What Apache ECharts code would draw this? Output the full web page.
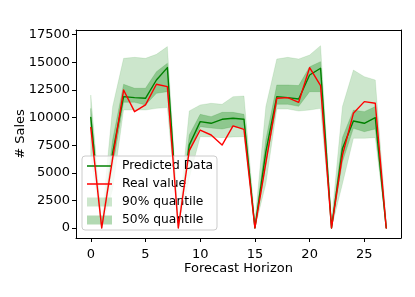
<!DOCTYPE html>
<html>
<head>
<meta charset="utf-8">
<script src="https://cdn.jsdelivr.net/npm/echarts@6/dist/echarts.min.js"></script>
<style>html,body{margin:0;padding:0;background:#fff}#c{width:415px;height:297px}</style>
</head>
<body>
<div id="c"></div>
<script>
const xs = [0,1,2,3,4,5,6,7,8,9,10,11,12,13,14,15,16,17,18,19,20,21,22,23,24,25,26,27];
const predicted = [10000,0,6800,11890,11800,11740,13400,14520,0,7500,9630,9480,9840,9930,9840,0,6900,11890,11800,11680,13850,14460,0,7200,9690,9480,9990,0];
const realValue = [9100,0,6300,12490,10530,11140,13010,12800,0,7000,8870,8420,7510,9240,8930,0,5900,11740,11800,11380,14520,12890,0,6600,10380,11440,11290,0];
const q90High = [12040,600,11000,15360,15450,15360,15720,16420,600,10600,11140,11290,11200,11890,11950,600,11000,15300,15450,15300,15660,16510,600,11000,14300,13700,13400,600];
const q90Low = [6500,0,3500,10680,10680,10680,10830,10900,0,4500,8270,8240,8180,8240,8270,0,4000,10770,10770,10590,10680,10830,0,4000,8120,8120,8180,0];
const q50High = [10830,200,8000,13010,12650,12650,14150,14910,200,8420,10290,10080,10470,10470,10290,200,8000,12950,12950,12890,14600,15060,200,8200,10680,10530,10990,200];
const q50Low = [9300,0,5500,11380,11380,11140,12190,12340,0,6910,9170,9050,8960,9170,9020,0,5800,11200,11200,11015,12340,12340,0,6000,9020,8720,8960,0];
const xTicks = [0,5,10,15,20,25];
const yTicks = [0,2500,5000,7500,10000,12500,15000,17500];

const FONT = 'DejaVu Sans';
const GREEN = '#008000';
const RED = '#ff0000';
const C90 = 'rgba(0,128,0,0.2)';
const C50 = 'rgba(0,128,0,0.3)';
const X_MIN = -1.35, X_MAX = 28.35, Y_MIN = -905, Y_MAX = 17925;

function bandSeries(name, lo, hi, color) {
  return {
    name: name,
    type: 'custom',
    z: 1,
    itemStyle: {color: color},
    data: xs.map((x, i) => [x, lo[i], hi[i]]),
    encode: {x: 0, y: [1, 2]},
    renderItem: function (params, api) {
      if (params.dataIndex !== 0) return null;
      const pts = [];
      for (let i = 0; i < xs.length; i++) pts.push(api.coord([xs[i], hi[i]]));
      for (let i = xs.length - 1; i >= 0; i--) pts.push(api.coord([xs[i], lo[i]]));
      return {
        type: 'polygon',
        shape: {points: pts},
        style: {fill: color, stroke: color, lineWidth: 0.5}
      };
    }
  };
}

const frameAxis = {
  axisLine: {show: true, onZero: false, lineStyle: {color: '#000', width: 1}},
  axisTick: {show: false}, axisLabel: {show: false}, splitLine: {show: false}
};

const LINE_ICON = 'path://M0,0 L50,0 L50,3 L0,3 Z';

const chart = echarts.init(document.getElementById('c'), null, {renderer: 'canvas'});
chart.setOption({
  animation: false,
  backgroundColor: '#fff',
  textStyle: {fontFamily: FONT},
  grid: {left: 76, right: 14, top: 30, bottom: 59},
  xAxis: [{
    type: 'value', min: X_MIN, max: X_MAX, position: 'bottom',
    name: 'Forecast Horizon', nameLocation: 'middle', nameGap: 24, nameMoveOverlap: false,
    nameTextStyle: {fontFamily: FONT, fontSize: 13, color: '#000'},
    axisLine: {show: true, onZero: false, lineStyle: {color: '#000', width: 1}},
    splitLine: {show: false},
    axisTick: {show: true, inside: false, length: 4, customValues: xTicks, lineStyle: {color: '#000', width: 1}},
    axisLabel: {customValues: xTicks, margin: 10, fontFamily: FONT, fontSize: 13, color: '#000'}
  }, Object.assign({type: 'value', min: X_MIN, max: X_MAX, position: 'top'}, frameAxis)],
  yAxis: [{
    type: 'value', min: Y_MIN, max: Y_MAX, position: 'left',
    name: '# Sales', nameLocation: 'middle', nameGap: 49, nameMoveOverlap: false,
    nameTextStyle: {fontFamily: FONT, fontSize: 13, color: '#000'},
    axisLine: {show: true, onZero: false, lineStyle: {color: '#000', width: 1}},
    splitLine: {show: false},
    axisTick: {show: true, inside: false, length: 4, customValues: yTicks, lineStyle: {color: '#000', width: 1}},
    axisLabel: {customValues: yTicks, margin: 6, fontFamily: FONT, fontSize: 13, color: '#000',
      formatter: function (v) { return String(Math.round(v)); }}
  }, Object.assign({type: 'value', min: Y_MIN, max: Y_MAX, position: 'right'}, frameAxis)],
  legend: {
    orient: 'vertical', left: 82, top: 156,
    padding: [3, 4, 3, 5],
    itemGap: 4, itemWidth: 25, itemHeight: 9,
    backgroundColor: 'rgba(255,255,255,0.8)', borderColor: '#cccccc', borderWidth: 1, borderRadius: 3,
    textStyle: {fontFamily: FONT, fontSize: 12.3, color: '#000', lineHeight: 14, padding: [0, 0, 0, 5]},
    data: [
      {name: 'Predicted Data', icon: LINE_ICON, itemStyle: {color: GREEN}},
      {name: 'Real value', icon: LINE_ICON, itemStyle: {color: RED}},
      {name: '90% quantile', icon: 'rect', itemStyle: {color: C90}},
      {name: '50% quantile', icon: 'rect', itemStyle: {color: C50}}
    ]
  },
  series: [
    bandSeries('90% quantile', q90Low, q90High, C90),
    bandSeries('50% quantile', q50Low, q50High, C50),
    {
      name: 'Predicted Data', type: 'line', z: 3,
      data: xs.map((x, i) => [x, predicted[i]]),
      symbol: 'none', showSymbol: false,
      lineStyle: {color: GREEN, width: 1.4, join: 'round', cap: 'round'}, itemStyle: {color: GREEN}
    },
    {
      name: 'Real value', type: 'line', z: 4,
      data: xs.map((x, i) => [x, realValue[i]]),
      symbol: 'none', showSymbol: false,
      lineStyle: {color: RED, width: 1.4, join: 'round', cap: 'round'}, itemStyle: {color: RED}
    }
  ]
});
</script>
</body>
</html>
